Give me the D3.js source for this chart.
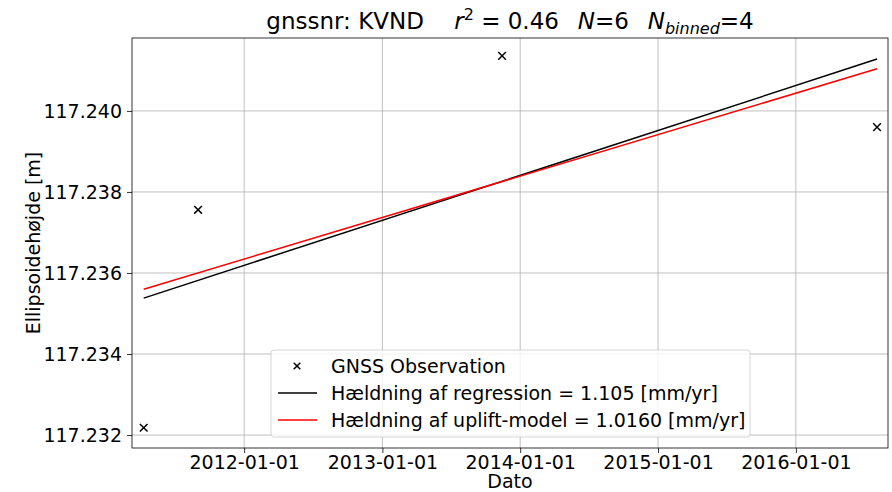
<!DOCTYPE html>
<html>
<head>
<meta charset="utf-8">
<script src="https://cdn.jsdelivr.net/npm/d3@7"></script>
<style>
  body { margin: 0; background: #fff; }
  svg text { font-family: "DejaVu Sans", sans-serif; }
</style>
</head>
<body>
<svg id="chart"></svg>
<script>
// observations (binned)
const obsDates = ['2011-04-10', '2011-09-01', '2013-11-14', '2016-08-03']
const obsHeights = [117.23218, 117.23756, 117.24136, 117.2396]

// fitted lines, evaluated at first and last observation
const lineDates = ['2011-04-10', '2016-08-03']
const regressionHeights = [117.23538, 117.24128]
const upliftHeights = [117.23560, 117.24104]

const yTicks = [117.232, 117.234, 117.236, 117.238, 117.240]
const xTicks = ['2012-01-01', '2013-01-01', '2014-01-01', '2015-01-01', '2016-01-01']

const legendLabels = [
    'GNSS Observation',
    'Hældning af regression = 1.105 [mm/yr]',
    'Hældning af uplift-model = 1.0160 [mm/yr]'
]

const W = 892, H = 492
const margin = {top: 38, right: 4, bottom: 44, left: 132}
const plotW = W - margin.left - margin.right
const plotH = H - margin.top - margin.bottom
const FS = 19

const parse = d3.timeParse('%Y-%m-%d')

const x = d3.scaleTime()
    .domain([parse('2011-03-10'), parse('2016-09-01')])
    .range([0, plotW])
const y = d3.scaleLinear()
    .domain([117.23168, 117.2418])
    .range([plotH, 0])

const svg = d3.select('#chart')
    .attr('width', W)
    .attr('height', H)

const chart = svg.append('g')
    .attr('transform', `translate(${margin.left}, ${margin.top})`)

// grid
chart.append('g')
    .selectAll('line')
    .data(xTicks)
    .enter()
    .append('line')
    .attr('x1', d => x(parse(d))).attr('x2', d => x(parse(d)))
    .attr('y1', 0).attr('y2', plotH)
    .attr('stroke', '#b0b0b0').attr('stroke-width', 0.8)
chart.append('g')
    .selectAll('line')
    .data(yTicks)
    .enter()
    .append('line')
    .attr('x1', 0).attr('x2', plotW)
    .attr('y1', d => y(d)).attr('y2', d => y(d))
    .attr('stroke', '#b0b0b0').attr('stroke-width', 0.8)

// axes
const xAxis = chart.append('g')
    .attr('transform', `translate(0, ${plotH})`)
    .call(d3.axisBottom(x).tickValues(xTicks.map(parse)).tickFormat(d3.timeFormat('%Y-%m-%d')).tickSizeOuter(0).tickSize(5).tickPadding(3))
const yAxis = chart.append('g')
    .call(d3.axisLeft(y).tickValues(yTicks).tickFormat(d3.format('.3f')).tickSizeOuter(0).tickSize(5).tickPadding(5))

;[xAxis, yAxis].forEach(a => {
    a.select('.domain').remove()
    a.selectAll('text').attr('font-size', FS).attr('fill', '#000').attr('font-family', 'DejaVu Sans')
    a.selectAll('line').attr('stroke', '#000').attr('stroke-width', 0.8)
})

// lines
const line = d3.line()
    .x(d => x(parse(d[0])))
    .y(d => y(d[1]))

chart.append('path')
    .datum(d3.zip(lineDates, regressionHeights))
    .attr('d', line)
    .attr('fill', 'none').attr('stroke', '#000').attr('stroke-width', 1.5)
chart.append('path')
    .datum(d3.zip(lineDates, upliftHeights))
    .attr('d', line)
    .attr('fill', 'none').attr('stroke', '#ff0000').attr('stroke-width', 1.5)

// observation markers
const cross = d3.symbol().type(d3.symbolX).size(40)
chart.selectAll('.obs')
    .data(d3.zip(obsDates, obsHeights))
    .enter()
    .append('path')
    .classed('obs', true)
    .attr('d', cross)
    .attr('transform', d => `translate(${x(parse(d[0]))}, ${y(d[1])})`)
    .attr('fill', 'none').attr('stroke', '#000').attr('stroke-width', 1.5)

// frame
chart.append('rect')
    .attr('width', plotW).attr('height', plotH)
    .attr('fill', 'none').attr('stroke', '#000').attr('stroke-width', 0.8)

// legend
const leg = chart.append('g').attr('transform', `translate(${271 - margin.left}, ${350 - margin.top})`)
leg.append('rect')
    .attr('width', 479).attr('height', 87).attr('rx', 3)
    .attr('fill', '#fff').attr('fill-opacity', 0.8)
    .attr('stroke', '#cccccc').attr('stroke-width', 0.8)
legendLabels.forEach((label, i) => {
    const ry = 16 + i * 27
    if (i === 0) {
        leg.append('path')
            .attr('d', d3.symbol().type(d3.symbolX).size(30))
            .attr('transform', `translate(26, ${ry})`)
            .attr('fill', 'none').attr('stroke', '#000').attr('stroke-width', 1.5)
    } else {
        leg.append('line')
            .attr('x1', 7).attr('x2', 46).attr('y1', ry).attr('y2', ry)
            .attr('stroke', i === 1 ? '#000' : '#ff0000').attr('stroke-width', 1.5)
    }
    leg.append('text')
        .attr('x', 60).attr('y', ry).attr('dy', '0.35em')
        .attr('font-size', FS)
        .text(label)
})

// axis labels
svg.append('text')
    .attr('x', margin.left + plotW / 2).attr('y', 488)
    .attr('text-anchor', 'middle').attr('font-size', FS)
    .text('Dato')
svg.append('text')
    .attr('transform', `translate(40, ${margin.top + plotH / 2}) rotate(-90)`)
    .attr('text-anchor', 'middle').attr('font-size', FS)
    .text('Ellipsoidehøjde [m]')

// title
const title = svg.append('text')
    .attr('x', margin.left + plotW / 2).attr('y', 29)
    .attr('text-anchor', 'middle').attr('font-size', 23)
title.append('tspan').text('gnssnr: KVND\u2003 ')
title.append('tspan').attr('font-style', 'italic').text('r')
title.append('tspan').attr('font-size', 16).attr('dy', -9).text('2')
title.append('tspan').attr('dy', 9).text(' = 0.46\u2002 ')
title.append('tspan').attr('font-style', 'italic').text('N')
title.append('tspan').text('=6\u2002 ')
title.append('tspan').attr('font-style', 'italic').text('N')
title.append('tspan').attr('font-style', 'italic').attr('font-size', 16).attr('dy', 5).text('binned')
title.append('tspan').attr('dy', -5).text('=4')
</script>
</body>
</html>
